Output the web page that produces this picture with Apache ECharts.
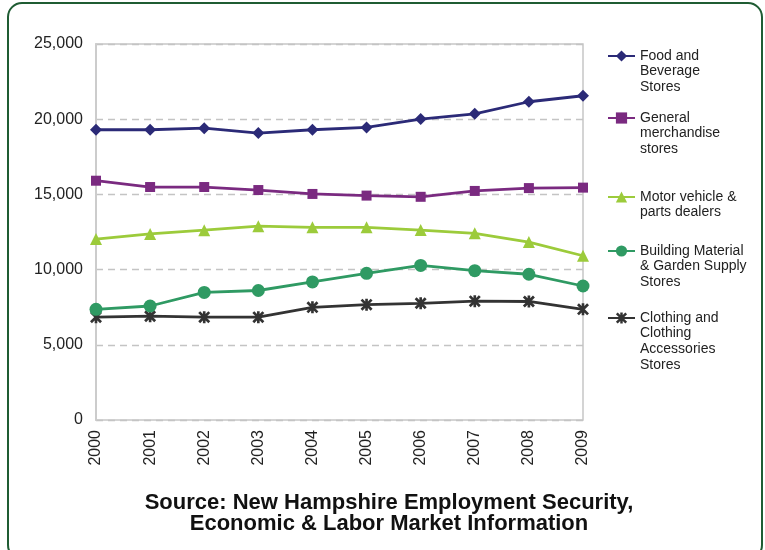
<!DOCTYPE html>
<html>
<head>
<meta charset="utf-8">
<script src="https://cdn.jsdelivr.net/npm/echarts@6/dist/echarts.min.js"></script>
<style>
html,body{margin:0;padding:0;background:#fff;}
#chart{width:765px;height:550px;}
</style>
</head>
<body>
<div id="chart"></div>
<script>
const years = ['2000','2001','2002','2003','2004','2005','2006','2007','2008','2009'];
const foodBeverage = [19300, 19300, 19400, 19080, 19300, 19450, 20010, 20360, 21160, 21560];
const generalMerch = [15910, 15490, 15490, 15290, 15030, 14920, 14840, 15230, 15420, 15450];
const motorVehicle = [12030, 12370, 12620, 12890, 12810, 12810, 12630, 12410, 11830, 10920];
const buildingGarden = [7360, 7580, 8480, 8610, 9180, 9750, 10280, 9930, 9690, 8910];
const clothing = [6840, 6900, 6840, 6840, 7490, 7670, 7760, 7900, 7880, 7360];
const yTicks = [0, 5000, 10000, 15000, 20000, 25000];

const seriesNames = [
  ['Food and','Beverage','Stores'],
  ['General','merchandise','stores'],
  ['Motor vehicle &','parts dealers'],
  ['Building Material','& Garden Supply','Stores'],
  ['Clothing and','Clothing','Accessories','Stores']
];
const seriesData = [foodBeverage, generalMerch, motorVehicle, buildingGarden, clothing];
const colors = ['#2b2a77', '#7a2a80', '#9ccb3b', '#2f9a63', '#333333'];
const star = 'path://M3.9,0 L6.1,0 L6.1,10 L3.9,10 Z M0,1.6 L1.6,0 L10,8.4 L8.4,10 Z M8.4,0 L10,1.6 L1.6,10 L0,8.4 Z';
const symbols = ['diamond', 'rect', 'triangle', 'circle', star];
const symbolSizes = [12, 10, 12, 13, 12];
const legendTops = [55, 117, 196, 250, 317];

const chart = echarts.init(document.getElementById('chart'));
const FONT = '"Liberation Sans", Arial, sans-serif';
const series = seriesData.map((d, i) => ({
  name: seriesNames[i].join(' '),
  type: 'line',
  data: d,
  symbol: symbols[i],
  symbolSize: symbolSizes[i],
  color: colors[i],
  lineStyle: {width: 2.8, color: colors[i]},
  itemStyle: {color: colors[i]},
  animation: false,
  z: 10 - i
}));
const legends = seriesNames.map((n, i) => ({
  data: [n.join(' ')],
  left: 607,
  top: legendTops[i] - 7,
  orient: 'vertical',
  padding: 0,
  itemWidth: 27,
  itemHeight: 14,
  selectedMode: false,
  formatter: () => n[0],
  textStyle: {fontFamily: FONT, fontSize: 14, color: '#222', lineHeight: 16}
}));
const graphics = [{
  type: 'rect', shape: {x: 8, y: 3, width: 754, height: 556, r: 14},
  style: {fill: 'none', stroke: '#1f5c33', lineWidth: 2}, z: 100
}];
seriesNames.forEach((n, i) => {
  n.slice(1).forEach((line, j) => {
    graphics.push({type: 'text', left: 640, top: legendTops[i] - 7 + 16 * (j + 1),
      style: {text: line, font: '14px ' + FONT, fill: '#222'}});
  });
});
graphics.push({type: 'text', x: 389, y: 492, style: {text: 'Source: New Hampshire Employment Security,\nEconomic & Labor Market Information',
  font: 'bold 22px ' + FONT, fill: '#111', align: 'center', lineHeight: 21}});

chart.setOption({
  animation: false,
  grid: {left: 96, right: 182, top: 44, bottom: 130, show: true, borderColor: '#c6c6c6', borderWidth: 1.5},
  legend: legends,
  xAxis: {
    type: 'category', data: years, boundaryGap: false,
    axisLine: {show: false}, axisTick: {show: false},
    axisLabel: {rotate: 90, fontFamily: FONT, fontSize: 16, color: '#222', margin: 10}
  },
  yAxis: {
    type: 'value', min: yTicks[0], max: yTicks[yTicks.length - 1], interval: 5000,
    axisLine: {show: true, lineStyle: {color: '#cccccc', width: 2}}, axisTick: {show: false},
    axisLabel: {fontFamily: FONT, fontSize: 16, color: '#222', margin: 13,
      formatter: v => v.toLocaleString('en-US')},
    splitLine: {show: true, lineStyle: {color: '#c4c4c4', type: [7, 5], width: 1.3}}
  },
  series: series,
  graphic: graphics
});
</script>
</body>
</html>
